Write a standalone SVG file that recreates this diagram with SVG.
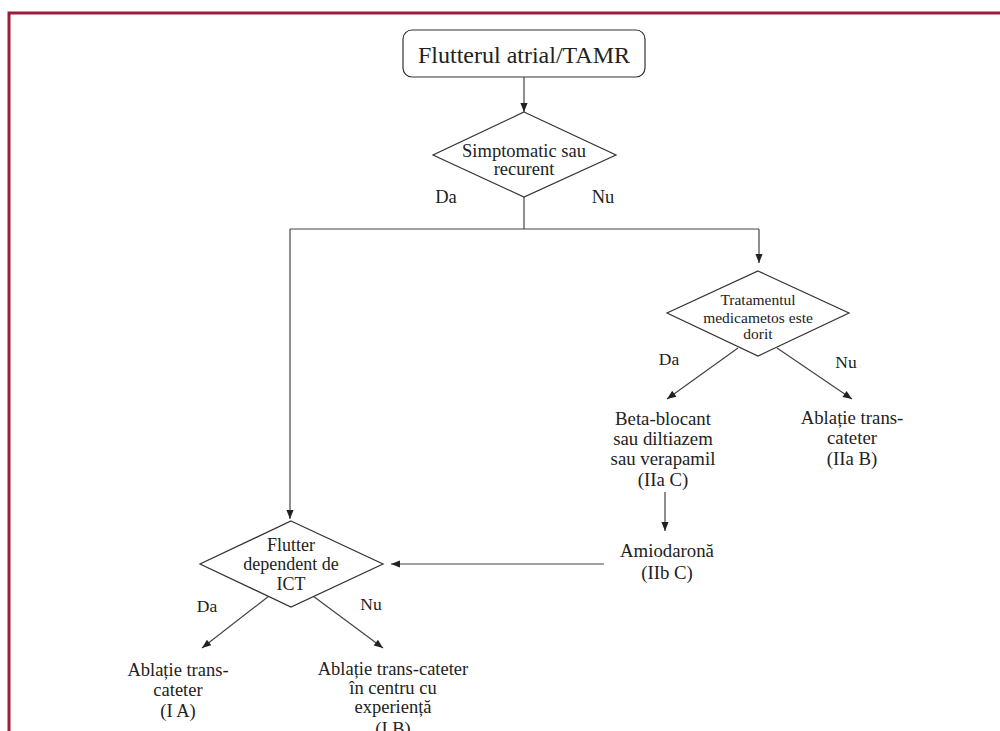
<svg xmlns="http://www.w3.org/2000/svg" width="1000" height="731" viewBox="0 0 1000 731">
<defs>
<marker id="ah" viewBox="0 0 10 10" refX="10" refY="5" markerWidth="10" markerHeight="9" markerUnits="userSpaceOnUse" orient="auto">
<path d="M0,1 L10,5 L0,9 z" fill="#222"/>
</marker>
<style>
text{font-family:'Liberation Serif','Times New Roman',serif;fill:#222;text-anchor:middle}
.s{fill:#fff;stroke:#333;stroke-width:1.2}
.c{fill:none;stroke:#444;stroke-width:1.2}
.a{fill:none;stroke:#444;stroke-width:1.2;marker-end:url(#ah)}
</style>
</defs>
<rect x="0" y="0" width="1000" height="731" fill="#fff"/>
<path d="M9,731 L9,13 L1000,13" fill="none" stroke="#9c1c3c" stroke-width="3"/>
<g id="connectors">
<line class="a" x1="524" y1="77" x2="524" y2="112"/>
<line class="c" x1="524" y1="197" x2="524" y2="229"/>
<line class="c" x1="290" y1="229" x2="759" y2="229"/>
<line class="a" x1="759" y1="229" x2="759" y2="263"/>
<line class="a" x1="290" y1="229" x2="290" y2="519"/>
<line class="a" x1="738" y1="348" x2="667" y2="399"/>
<line class="a" x1="777" y1="348" x2="852" y2="399"/>
<line class="a" x1="665" y1="492" x2="665" y2="531"/>
<line class="a" x1="604" y1="564" x2="391" y2="564"/>
<line class="a" x1="269" y1="596" x2="202" y2="648"/>
<line class="a" x1="313" y1="596" x2="383" y2="648"/>
</g>
<g id="start">
<rect class="s" x="403" y="30" width="242" height="47" rx="9"/>
<text x="524" y="63" font-size="24">Flutterul atrial/TAMR</text>
</g>
<g id="d1">
<polygon class="s" points="524,112 616,155 524,197 433,155"/>
<text x="524" y="157" font-size="18.5">Simptomatic sau</text>
<text x="524" y="175" font-size="18.5">recurent</text>
</g>
<g id="d2">
<polygon class="s" points="758,271 849,313 758,356 667,313"/>
<text x="758" y="305" font-size="15.5">Tratamentul</text>
<text x="758" y="323" font-size="15.5">medicametos este</text>
<text x="758" y="339" font-size="15.5">dorit</text>
</g>
<g id="beta">
<text x="663" y="425" font-size="18.8">Beta-blocant</text>
<text x="663" y="445" font-size="18.8">sau diltiazem</text>
<text x="663" y="465" font-size="18.8">sau verapamil</text>
<text x="663" y="486" font-size="18.8">(IIa C)</text>
</g>
<g id="abl1">
<text x="852" y="424" font-size="18.8">Ablație trans-</text>
<text x="852" y="444" font-size="18.8">cateter</text>
<text x="852" y="465" font-size="18.8">(IIa B)</text>
</g>
<g id="amio">
<text x="667" y="557" font-size="18.8">Amiodaronă</text>
<text x="667" y="579" font-size="18.8">(IIb C)</text>
</g>
<g id="d3">
<polygon class="s" points="291,521 383,564 291,607 200,564"/>
<text x="291" y="551" font-size="18">Flutter</text>
<text x="291" y="570" font-size="18">dependent de</text>
<text x="291" y="590" font-size="18">ICT</text>
</g>
<g id="ablA">
<text x="178" y="676" font-size="18.5">Ablație trans-</text>
<text x="178" y="696" font-size="18.5">cateter</text>
<text x="178" y="717" font-size="18.5">(I A)</text>
</g>
<g id="ablB">
<text x="393" y="675" font-size="18.5">Ablație trans-cateter</text>
<text x="393" y="694" font-size="18.5">în centru cu</text>
<text x="393" y="713" font-size="18.5">experiență</text>
<text x="393" y="735" font-size="18.5">(I B)</text>
</g>
<g id="labels">
<text x="446" y="203" font-size="18.5">Da</text>
<text x="603" y="203" font-size="18.5">Nu</text>
<text x="669" y="365" font-size="17.5">Da</text>
<text x="846" y="368" font-size="17.5">Nu</text>
<text x="207" y="612" font-size="17.5">Da</text>
<text x="371" y="610" font-size="17.5">Nu</text>
</g>
</svg>
